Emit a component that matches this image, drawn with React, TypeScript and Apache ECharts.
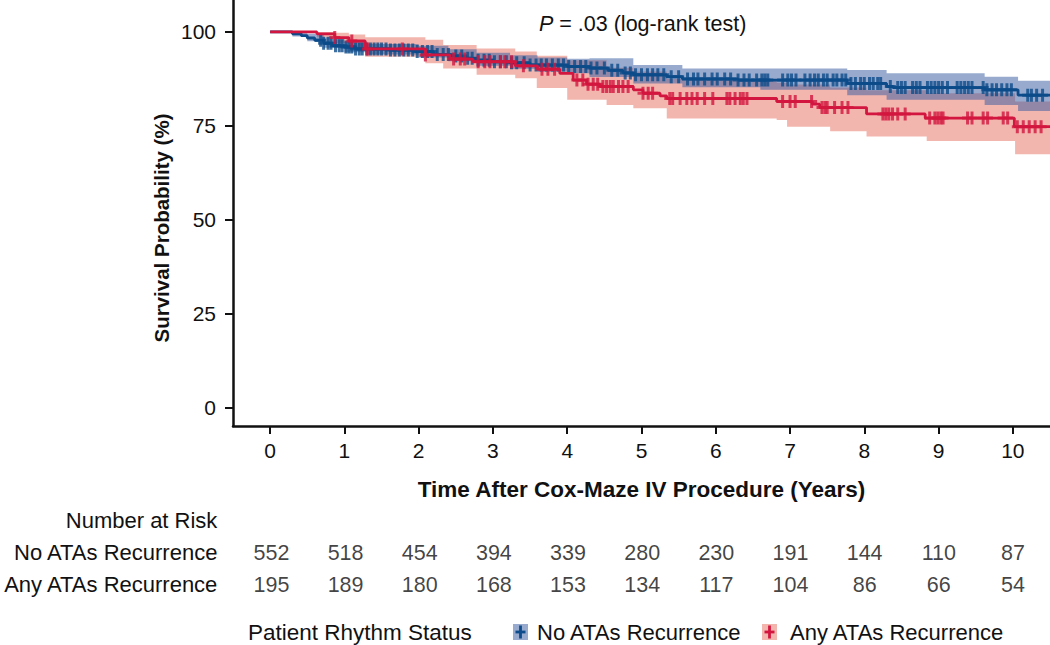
import React, { useEffect, useRef } from "react";
import * as echarts from "echarts";

// ---------- data ----------
const xTicks = [0, 1, 2, 3, 4, 5, 6, 7, 8, 9, 10];
const yTicks = [0, 25, 50, 75, 100];

const riskYears = [0, 1, 2, 3, 4, 5, 6, 7, 8, 9, 10];
const riskNo = [552, 518, 454, 394, 339, 280, 230, 191, 144, 110, 87];
const riskAny = [195, 189, 180, 168, 153, 134, 117, 104, 86, 66, 54];
const riskRows = ["Any ATAs Recurrence", "No ATAs Recurrence", "Number at Risk"];

// No ATAs Recurrence: KM step curve
const blueT = [0, 0.3, 0.42, 0.5, 0.6, 0.72, 0.84, 1.0, 1.15, 1.6, 1.95, 2.2, 2.42, 2.6, 2.78, 3.0, 3.23, 3.5, 4.0, 4.3, 4.55, 4.75, 4.89, 5.34, 5.55, 6.3, 7.77, 8.3, 8.39, 9.62, 10.07, 10.5];
const blueS = [100, 99.5, 99.0, 98.4, 97.8, 97.0, 96.3, 96.0, 95.5, 95.2, 94.8, 94.0, 93.6, 93.0, 92.5, 92.1, 91.8, 91.2, 90.8, 90.4, 89.8, 89.1, 88.6, 88.1, 87.5, 87.2, 86.3, 85.5, 85.2, 84.6, 83.2, 83.2];
const blueBandT = [0, 0.3, 0.5, 0.72, 1.0, 1.3, 2.0, 2.4, 2.78, 3.23, 3.6, 4.0, 4.3, 4.89, 5.55, 6.6, 7.77, 8.3, 9.62, 10.07, 10.5];
const blueBandLo = [100, 98.8, 97.5, 95.8, 94.6, 94.0, 93.2, 92.2, 91.0, 90.2, 89.4, 89.0, 88.0, 86.3, 85.3, 84.6, 83.2, 82.0, 80.6, 79.0, 79.0];
const blueBandHi = [100, 100, 99.5, 98.5, 97.4, 96.8, 96.3, 95.4, 94.5, 93.8, 93.2, 92.9, 93.0, 91.2, 90.3, 90.3, 89.9, 89.0, 88.1, 87.0, 87.0];
const blueCensor = [0.68, 0.72, 0.78, 0.82, 0.88, 0.93, 0.97, 1.02, 1.06, 1.1, 1.15, 1.2, 1.24, 1.3, 1.35, 1.4, 1.45, 1.5, 1.56, 1.62, 1.68, 1.74, 1.8, 1.86, 1.92, 1.98, 2.05, 2.12, 2.18, 2.25, 2.33, 2.4, 2.5, 2.58, 2.66, 2.72, 2.8, 2.88, 2.95, 3.02, 3.1, 3.18, 3.25, 3.32, 3.42, 3.5, 3.58, 3.65, 3.72, 3.8, 3.88, 3.95, 4.02, 4.1, 4.18, 4.25, 4.32, 4.4, 4.5, 4.6, 4.68, 4.78, 4.85, 4.92, 5.0, 5.08, 5.15, 5.22, 5.3, 5.4, 5.5, 5.62, 5.7, 5.76, 5.85, 5.95, 6.02, 6.12, 6.2, 6.3, 6.38, 6.45, 6.55, 6.62, 6.66, 6.7, 6.9, 6.97, 7.02, 7.08, 7.2, 7.27, 7.33, 7.38, 7.45, 7.5, 7.58, 7.63, 7.7, 7.75, 7.82, 7.88, 7.95, 8.0, 8.07, 8.12, 8.18, 8.22, 8.35, 8.45, 8.5, 8.55, 8.65, 8.7, 8.75, 8.85, 8.9, 8.95, 9.0, 9.05, 9.12, 9.25, 9.3, 9.35, 9.4, 9.45, 9.6, 9.65, 9.72, 9.78, 9.85, 9.92, 9.98, 10.2, 10.25, 10.32, 10.4];

// Any ATAs Recurrence: KM step curve
const redT = [0, 0.63, 0.87, 1.06, 1.28, 2.09, 2.42, 2.73, 3.3, 3.6, 3.9, 4.08, 4.26, 4.44, 4.89, 5.02, 5.25, 5.34, 6.82, 7.3, 7.4, 8.03, 8.82, 10.02, 10.5];
const redS = [100, 99.5, 98.5, 97.6, 95.5, 93.9, 92.8, 92.1, 91.0, 90.1, 89.0, 87.2, 86.1, 85.5, 84.6, 83.7, 83.0, 82.3, 81.5, 80.8, 79.9, 78.2, 77.1, 74.8, 74.8];
const redBandT = [0, 0.63, 0.87, 1.06, 1.28, 2.09, 2.33, 2.78, 3.3, 3.59, 4.0, 4.53, 4.89, 5.34, 6.82, 6.96, 7.54, 8.03, 8.84, 10.03, 10.5];
const redBandLo = [100, 98.5, 97.0, 95.5, 93.4, 91.7, 90.3, 88.6, 87.7, 85.1, 82.0, 80.6, 79.7, 77.0, 76.6, 74.8, 73.6, 72.2, 71.0, 67.5, 67.5];
const redBandHi = [100, 100, 99.8, 99.3, 98.6, 97.9, 96.5, 95.6, 94.8, 93.7, 92.5, 90.5, 89.5, 87.5, 86.5, 86.0, 85.2, 84.5, 83.7, 81.5, 81.5];
const redCensor = [0.87, 1.1, 1.31, 1.78, 2.09, 2.47, 2.56, 2.62, 2.8, 2.89, 2.96, 3.1, 3.16, 3.25, 3.41, 3.66, 3.74, 3.83, 4.13, 4.21, 4.28, 4.35, 4.41, 4.48, 4.53, 4.58, 4.62, 4.69, 4.75, 4.82, 5.02, 5.09, 5.15, 5.38, 5.42, 5.52, 5.61, 5.68, 5.75, 5.85, 5.96, 6.15, 6.19, 6.26, 6.33, 6.37, 6.42, 6.9, 7.0, 7.07, 7.29, 7.43, 7.47, 7.5, 7.6, 7.7, 7.78, 8.25, 8.29, 8.33, 8.38, 8.45, 8.55, 8.88, 8.95, 8.99, 9.03, 9.06, 9.39, 9.45, 9.6, 9.66, 9.87, 9.93, 10.06, 10.14, 10.22, 10.3, 10.38];

// ---------- styles ----------
const FONT = "'Liberation Sans', Arial, Helvetica, sans-serif";
const TXT = "#111111";
const BLUE = "#0d4b8a";
const RED = "#d2163f";
const BLUE_BAND = "rgba(50,88,160,0.5)";
const RED_BAND = "#f3b6ae";
const PLUS = "path://M4,0H7V5H11V8H7V13H4V8H0V5H4Z";

const survAt = (ts: number[], ss: number[], t: number) => {
  let v = ss[0];
  for (let i = 0; i < ts.length; i++) if (ts[i] <= t) v = ss[i];
  return v;
};

const bandSeries = (ts: number[], lo: number[], hi: number[], color: string) => ({
  type: "custom",
  xAxisIndex: 0,
  yAxisIndex: 0,
  silent: true,
  z: 1,
  data: ts.map((t, i) => [t, lo[i], hi[i]]),
  encode: { x: 0, y: [1, 2] },
  renderItem: (params: any, api: any) => {
    if (params.dataIndex !== 0) return { type: "group", children: [] };
    const pts: number[][] = [];
    for (let i = 0; i < ts.length - 1; i++) {
      pts.push(api.coord([ts[i], hi[i]]));
      pts.push(api.coord([ts[i + 1], hi[i]]));
    }
    for (let i = ts.length - 2; i >= 0; i--) {
      pts.push(api.coord([ts[i + 1], lo[i]]));
      pts.push(api.coord([ts[i], lo[i]]));
    }
    return { type: "polygon", shape: { points: pts }, style: { fill: color } };
  },
});

const legendItem = (x: number, fill: string, stroke: string) => [
  { type: "rect", shape: { x, y: 624, width: 15, height: 16 }, style: { fill } },
  { type: "line", shape: { x1: x + 7.5, y1: 625.5, x2: x + 7.5, y2: 638.5 }, style: { stroke, lineWidth: 2.8 } },
  { type: "line", shape: { x1: x + 2.5, y1: 632, x2: x + 12.5, y2: 632 }, style: { stroke, lineWidth: 2.8 } },
];

export default function App() {
  const ref = useRef<HTMLDivElement>(null);
  useEffect(() => {
    if (!ref.current) return;
    const chart = echarts.init(ref.current, null, { renderer: "svg" });
    const axisLineStyle = { color: "#111", width: 2.5 };
    const option: any = {
      animation: false,
      textStyle: { fontFamily: FONT },
      title: {
        text: "{i|P} = .03 (log-rank test)",
        left: 534,
        top: 8,
        textStyle: {
          fontFamily: FONT,
          fontSize: 21.5,
          fontWeight: "normal",
          color: TXT,
          rich: { i: { fontFamily: FONT, fontSize: 21.5, fontStyle: "italic", color: TXT } },
        },
      },
      grid: [
        { left: 233, right: 0, top: 0, bottom: 219 },
        { left: 233, right: 0, top: 504, height: 97 },
      ],
      xAxis: [
        {
          type: "value",
          gridIndex: 0,
          min: -0.5,
          max: 10.5,
          axisLine: { show: true, onZero: false, lineStyle: axisLineStyle },
          axisTick: { show: true, customValues: xTicks, length: 8, lineStyle: { color: "#111", width: 2 } },
          axisLabel: { customValues: xTicks, fontSize: 21, color: TXT, margin: 14, fontFamily: FONT },
          splitLine: { show: false },
          name: "Time After Cox-Maze IV Procedure (Years)",
          nameLocation: "middle",
          nameGap: 52,
          nameTextStyle: { fontSize: 22.5, fontWeight: "bold", color: TXT, fontFamily: FONT },
        },
        { type: "value", gridIndex: 1, min: -0.5, max: 10.5, show: false },
      ],
      yAxis: [
        {
          type: "value",
          gridIndex: 0,
          min: -4.8,
          max: 108.5,
          axisLine: { show: true, onZero: false, lineStyle: axisLineStyle },
          axisTick: { show: true, customValues: yTicks, length: 8, lineStyle: { color: "#111", width: 2 } },
          axisLabel: { customValues: yTicks, fontSize: 21, color: TXT, margin: 17, fontFamily: FONT },
          splitLine: { show: false },
        },
        {
          type: "category",
          gridIndex: 1,
          data: riskRows,
          axisLine: { show: false },
          axisTick: { show: false },
          splitLine: { show: false },
          axisLabel: { fontSize: 22, color: TXT, margin: 17, fontFamily: FONT },
        },
      ],
      series: [
        bandSeries(redBandT, redBandLo, redBandHi, RED_BAND),
        bandSeries(blueBandT, blueBandLo, blueBandHi, BLUE_BAND),
        {
          type: "line",
          step: "end",
          data: blueT.map((t, i) => [t, blueS[i]]),
          showSymbol: false,
          symbol: "none",
          lineStyle: { color: BLUE, width: 2.8 },
          z: 3,
          silent: true,
        },
        {
          type: "scatter",
          data: blueCensor.map((t) => [t, survAt(blueT, blueS, t)]),
          symbol: PLUS,
          symbolSize: [11, 13],
          itemStyle: { color: BLUE },
          z: 4,
          silent: true,
        },
        {
          type: "line",
          step: "end",
          data: redT.map((t, i) => [t, redS[i]]),
          showSymbol: false,
          symbol: "none",
          lineStyle: { color: RED, width: 2.8 },
          z: 5,
          silent: true,
        },
        {
          type: "scatter",
          data: redCensor.map((t) => [t, survAt(redT, redS, t)]),
          symbol: PLUS,
          symbolSize: [11, 13],
          itemStyle: { color: RED },
          z: 6,
          silent: true,
        },
        {
          type: "scatter",
          xAxisIndex: 1,
          yAxisIndex: 1,
          symbolSize: 1,
          itemStyle: { color: "rgba(0,0,0,0)" },
          silent: true,
          data: [
            ...riskYears.map((y, i) => [y, 1, riskNo[i]]),
            ...riskYears.map((y, i) => [y, 0, riskAny[i]]),
          ],
          label: {
            show: true,
            position: "inside",
            formatter: (p: any) => String(p.value[2]),
            fontSize: 21.5,
            color: TXT,
            fontFamily: FONT,
          },
        },
      ],
      graphic: [
        {
          type: "text",
          x: 161,
          y: 228,
          rotation: Math.PI / 2,
          style: {
            text: "Survival Probability (%)",
            font: `bold 20.5px ${FONT}`,
            fill: TXT,
            align: "center",
            verticalAlign: "middle",
          },
        },
        {
          type: "text",
          x: 248,
          y: 632,
          style: { text: "Patient Rhythm Status", font: `22.5px ${FONT}`, fill: TXT, verticalAlign: "middle" },
        },
        ...legendItem(513, BLUE_BAND, BLUE),
        {
          type: "text",
          x: 537,
          y: 632,
          style: { text: "No ATAs Recurrence", font: `22px ${FONT}`, fill: TXT, verticalAlign: "middle" },
        },
        ...legendItem(762, RED_BAND, RED),
        {
          type: "text",
          x: 790,
          y: 632,
          style: { text: "Any ATAs Recurrence", font: `22px ${FONT}`, fill: TXT, verticalAlign: "middle" },
        },
      ],
    };
    chart.setOption(option);
    return () => chart.dispose();
  }, []);
  return <div ref={ref} style={{ position: "absolute", left: 0, top: 0, width: 1050, height: 645 }} />;
}
